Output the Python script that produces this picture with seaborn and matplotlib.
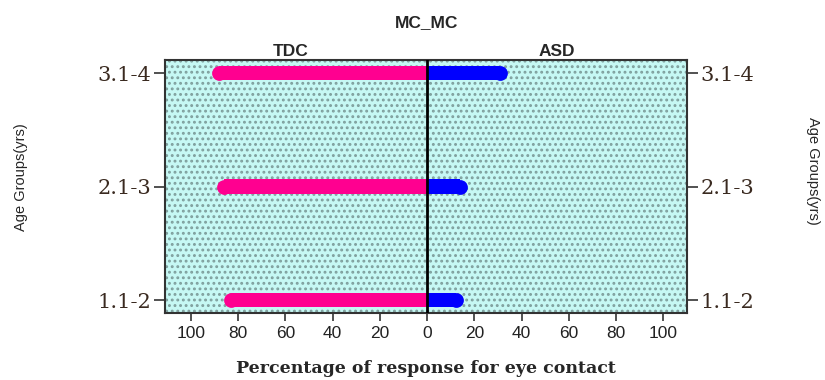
import matplotlib
matplotlib.use("Agg")
import matplotlib.pyplot as plt
import seaborn as sns
import pandas as pd
import numpy as np
from matplotlib.patches import Rectangle

sns.set_style("white")
plt.rcParams["hatch.linewidth"] = 1.3

age_groups = ["3.1-4", "2.1-3", "1.1-2"]
tdc_values = [88, 86, 83]
asd_values = [31, 14, 12]
xtick_values = [-100, -80, -60, -40, -20, 0, 20, 40, 60, 80, 100]
xtick_labels = ["100", "80", "60", "40", "20", "0", "20", "40", "60", "80", "100"]

tdc_color = "#ff0090"
asd_color = "#0000ff"

df = pd.DataFrame({
    "age": age_groups * 2,
    "value": [-v for v in tdc_values] + asd_values,
    "group": ["TDC"] * 3 + ["ASD"] * 3,
})

fig = plt.figure(figsize=(8.25, 3.8), dpi=100)
ax = fig.add_axes([0.2, 0.176, 0.6327, 0.666])

# dotted cyan background
bg = Rectangle((0, 0), 1, 1, transform=ax.transAxes, facecolor="#c6f8f4",
               edgecolor="#7f9f9d", hatch="...", linewidth=0, zorder=0)
ax.add_patch(bg)

bar_h = 0.13
sns.barplot(data=df, y="age", x="value", hue="group", order=age_groups,
            palette={"TDC": tdc_color, "ASD": asd_color}, dodge=False,
            width=bar_h, ax=ax, legend=False, zorder=2, linewidth=0, saturation=1)

# rounded outer ends
ypos = np.arange(len(age_groups))
ms = (bar_h * 113.5 * 0.72) ** 2
ax.scatter([-v for v in tdc_values], ypos, s=ms, color=tdc_color,
           marker="o", linewidths=0, zorder=2)
ax.scatter(asd_values, ypos, s=ms, color=asd_color,
           marker="o", linewidths=0, zorder=2)

ax.axvline(0, color="black", linewidth=2, zorder=3)

ax.set_xlim(-111, 110)
ax.set_ylim(2.115, -0.115)
ax.set_xticks(xtick_values)
ax.set_xticklabels(xtick_labels, fontsize=12.5, family="Liberation Sans", color="#222222")
ax.tick_params(axis="x", length=6, width=1.2, color="#333333", pad=3, direction="out", bottom=True)

ax.set_yticks(ypos)
ax.set_yticklabels(age_groups, fontsize=15, family="DejaVu Serif", color="#3a2a20")
ax.tick_params(axis="y", length=8, width=1.2, color="#333333", left=True, right=True,
               labelleft=True, labelright=True, pad=2)

for s in ax.spines.values():
    s.set_color("#333333")
    s.set_linewidth(1.5)

ax.set_xlabel("Percentage of response for eye contact", fontsize=12.5, fontweight="bold",
              family="DejaVu Serif", labelpad=14)
ax.set_ylabel("")

fig.text(0.026, 0.535, "Age Groups(yrs)", rotation=90, fontsize=10.5,
         family="Liberation Sans", ha="center", va="center")
fig.text(0.985, 0.55, "Age Groups(yrs)", rotation=270, fontsize=10.5,
         family="Liberation Sans", ha="center", va="center")

fig.text(0.5176, 0.94, "MC_MC", fontsize=12.5, fontweight="bold", family="Liberation Sans",
         ha="center", va="center")
ax.text(-58, -0.125, "TDC", fontsize=12.5, fontweight="bold", family="Liberation Sans",
        ha="center", va="bottom")
ax.text(55, -0.125, "ASD", fontsize=12.5, fontweight="bold", family="Liberation Sans",
        ha="center", va="bottom")

fig.savefig("out.png", dpi=100)
